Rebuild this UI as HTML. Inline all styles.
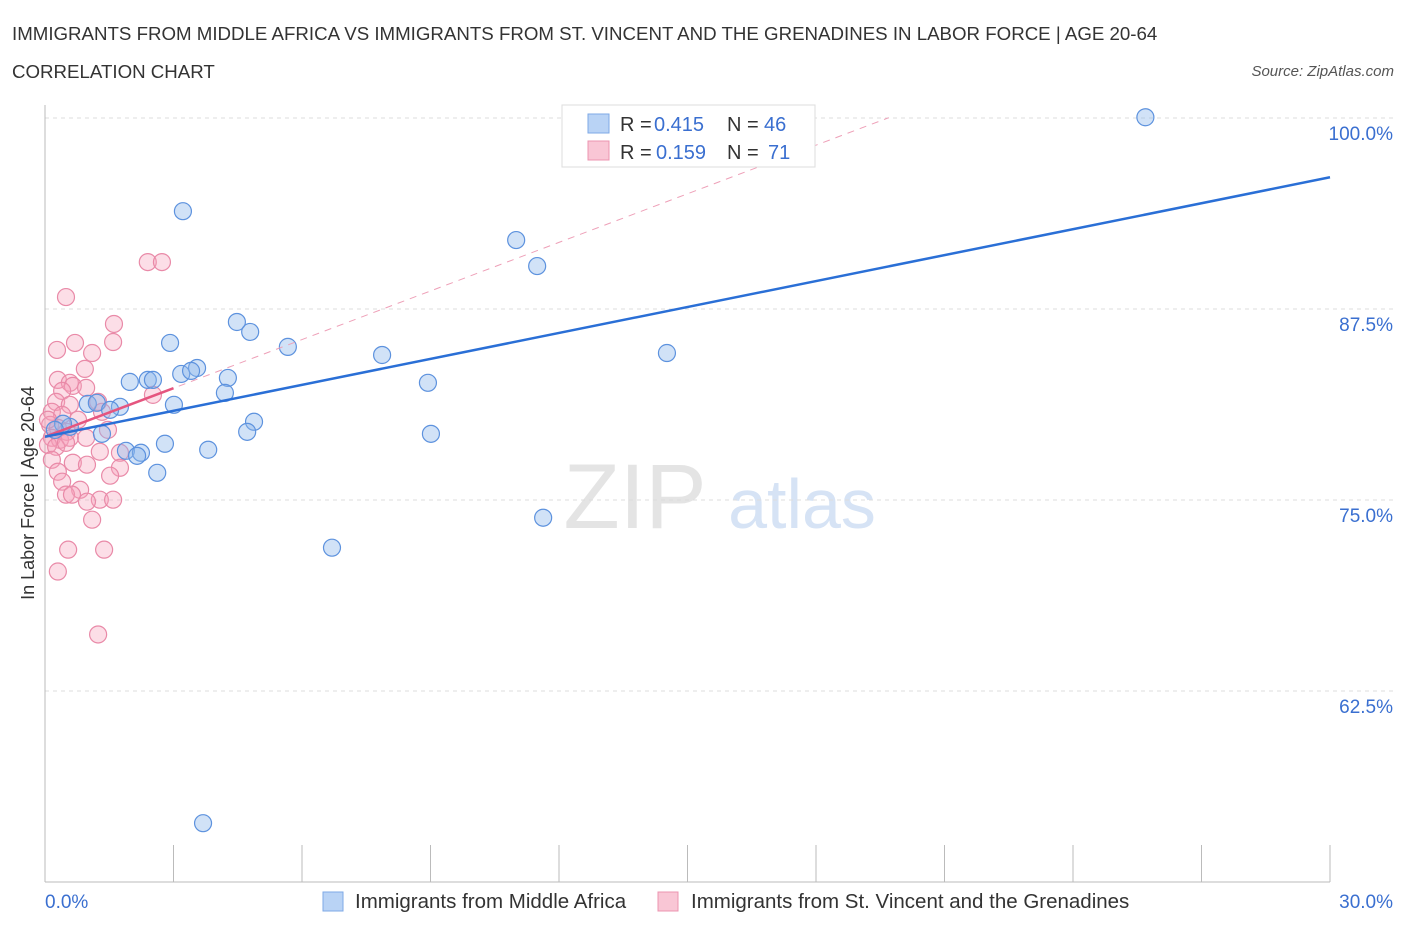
<!DOCTYPE html>
<html><head><meta charset="utf-8"><style>
body{margin:0;background:#fff;font-family:"Liberation Sans",sans-serif;}
svg text{font-family:"Liberation Sans",sans-serif;}
</style></head><body>
<svg id="chart" width="1406" height="930" xmlns="http://www.w3.org/2000/svg">
<text x="12" y="40" font-size="18.7" fill="#333">IMMIGRANTS FROM MIDDLE AFRICA VS IMMIGRANTS FROM ST. VINCENT AND THE GRENADINES IN LABOR FORCE | AGE 20-64</text>
<text x="12" y="78" font-size="18.7" fill="#333">CORRELATION CHART</text>
<text x="1394" y="76" font-size="15" fill="#555" font-style="italic" text-anchor="end">Source: ZipAtlas.com</text>
<g>
<text x="635" y="528" font-size="92" fill="#e4e4e4" font-family="Liberation Serif" text-anchor="middle">ZIP</text>
<text x="802" y="528" font-size="70" fill="#d6e3f5" text-anchor="middle">atlas</text>
</g>
<g id="grid"></g>
<line x1="45" y1="105" x2="45" y2="882" stroke="#bbb"/>
<line x1="45" y1="882" x2="1330" y2="882" stroke="#bbb"/>
<g id="xticks"></g>
<text transform="translate(34,493) rotate(-90)" font-size="18" fill="#333" text-anchor="middle">In Labor Force | Age 20-64</text>
<g id="pts"></g>
<g id="lines"></g>
<g>
<rect x="562" y="105" width="253" height="62" fill="#fff" stroke="#ddd"/>
<rect x="588" y="114" width="21" height="19" fill="#b9d3f5" stroke="#7ea8e6"/>
<rect x="588" y="141" width="21" height="19" fill="#f9c6d5" stroke="#ec94b0"/>
<text x="620" y="131" font-size="20" fill="#333">R =</text>
<text x="654" y="131" font-size="20" fill="#3a6fd0">0.415</text>
<text x="727" y="131" font-size="20" fill="#333">N =</text>
<text x="764" y="131" font-size="20" fill="#3a6fd0">46</text>
<text x="620" y="159" font-size="20" fill="#333">R =</text>
<text x="656" y="159" font-size="20" fill="#3a6fd0">0.159</text>
<text x="727" y="159" font-size="20" fill="#333">N =</text>
<text x="768" y="159" font-size="20" fill="#3a6fd0">71</text>
</g>
<g>
<rect x="323" y="892" width="20" height="19" fill="#b9d3f5" stroke="#7ea8e6"/>
<text x="355" y="908" font-size="20.5" fill="#333">Immigrants from Middle Africa</text>
<rect x="658" y="892" width="20" height="19" fill="#f9c6d5" stroke="#ec94b0"/>
<text x="691" y="908" font-size="20.5" fill="#333">Immigrants from St. Vincent and the Grenadines</text>
</g>
</svg>
<script>
const yTicks=[100,87.5,75,62.5];
const yTickLabels=["100.0%","87.5%","75.0%","62.5%"];
const xTickVals=[0,3,6,9,12,15,18,21,24,27,30];
const blueX=[25.69,3.22,11.0,11.49,4.48,4.79,2.92,5.67,7.87,14.52,3.55,3.18,3.41,1.98,2.40,2.52,4.27,8.94,4.20,3.01,1.0,1.21,1.75,1.52,4.88,4.72,9.01,0.58,1.33,2.80,1.89,2.24,2.15,3.81,2.62,11.63,6.70,3.69,0.42,0.23];
const blueY=[100.05,93.9,92.01,90.31,86.65,86.0,85.28,85.02,84.49,84.62,83.64,83.25,83.45,82.73,82.86,82.86,82.99,82.67,82.01,81.23,81.29,81.36,81.1,80.9,80.12,79.46,79.33,79.79,79.33,78.68,78.22,78.09,77.89,78.29,76.78,73.84,71.88,53.85,79.99,79.59];
const pinkX=[0.49,2.40,2.73,1.61,1.59,0.28,0.70,1.10,0.93,0.30,0.58,0.65,0.40,0.96,2.52,0.26,0.58,1.24,0.16,0.40,1.33,0.12,0.30,0.51,1.47,0.16,0.35,0.58,0.96,0.07,0.26,0.49,1.28,1.75,0.16,0.65,0.98,1.75,0.30,1.52,0.40,0.82,0.49,0.63,1.28,0.98,1.59,1.10,0.54,1.38,0.30,1.24,0.07,0.77];
const pinkY=[88.28,90.57,90.57,86.52,85.34,84.82,85.28,84.62,83.58,82.86,82.67,82.47,82.14,82.34,81.88,81.42,81.23,81.42,80.77,80.57,80.77,79.92,79.72,79.46,79.59,79.07,78.94,79.07,79.07,78.61,78.48,78.74,78.16,78.09,77.63,77.44,77.31,77.11,76.85,76.59,76.2,75.67,75.35,75.35,75.02,74.89,75.02,73.71,71.75,71.75,70.32,66.2,80.25,80.25];
const blueTrend=[79.14,96.12];
const pinkTrend=[79.14,1.06];
const X0=45,X1=1330,YT=118,YB=882;
const sx=v=>X0+(v/30)*(X1-X0);
const sy=v=>YB-(v-50)/50*(YB-YT);
const NS="http://www.w3.org/2000/svg";
function mk(t,a,p){const e=document.createElementNS(NS,t);for(const k in a)e.setAttribute(k,a[k]);p.appendChild(e);return e;}
const grid=document.getElementById('grid');
yTicks.forEach((v,i)=>{
 const l=mk('line',{x1:45,x2:1395,y1:sy(v),y2:sy(v),stroke:'#ddd','stroke-dasharray':'4,4'},grid);
 
 
 const t=mk('text',{x:1393,y:sy(v)+22,'font-size':19,fill:'#3a6fd0','text-anchor':'end'},grid);
 t.textContent=yTickLabels[i];
 
 
});
const xt=document.getElementById('xticks');
xTickVals.forEach(v=>{
 const l=mk('line',{x1:sx(v),x2:sx(v),y1:845,y2:882,stroke:'#bbb'},xt);
 
 
});
let t0=mk('text',{x:45,y:908,'font-size':19,fill:'#3a6fd0'},xt);t0.textContent="0.0%";


let t1=mk('text',{x:1393,y:908,'font-size':19,fill:'#3a6fd0','text-anchor':'end'},xt);t1.textContent="30.0%";


const pts=document.getElementById('pts');
pinkX.forEach((x,i)=>{
 const c=mk('circle',{cx:sx(x),cy:sy(pinkY[i]),r:8.5,fill:'rgba(246,160,186,0.35)',stroke:'#e98aa8','stroke-width':1.2},pts);
 
 
});
blueX.forEach((x,i)=>{
 const c=mk('circle',{cx:sx(x),cy:sy(blueY[i]),r:8.5,fill:'rgba(140,182,236,0.4)',stroke:'#5d92de','stroke-width':1.2},pts);
 
 
});
const ln=document.getElementById('lines');
let d=mk('line',{x1:sx(0),y1:sy(pinkTrend[0]),x2:sx(19.7),y2:sy(pinkTrend[0]+pinkTrend[1]*19.7),stroke:'#eea0b8','stroke-width':1,'stroke-dasharray':'7,6'},ln);


let p=mk('line',{x1:sx(0),y1:sy(pinkTrend[0]),x2:sx(3),y2:sy(pinkTrend[0]+pinkTrend[1]*3),stroke:'#e5557f','stroke-width':2.5},ln);


let b=mk('line',{x1:sx(0),y1:sy(blueTrend[0]),x2:sx(30),y2:sy(blueTrend[1]),stroke:'#2a6fd6','stroke-width':2.5},ln);


</script>
</body></html>
